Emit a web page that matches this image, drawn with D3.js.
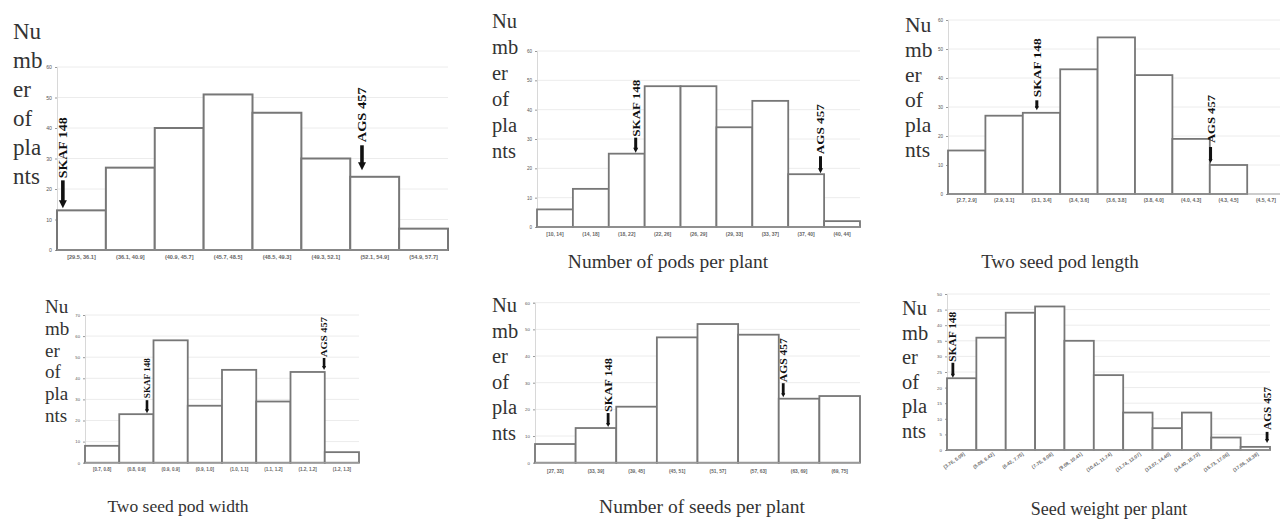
<!DOCTYPE html>
<html><head><meta charset="utf-8">
<script src="https://cdn.jsdelivr.net/npm/d3@7"></script>
<style>body{margin:0;background:#fff}svg{display:block}</style>
</head><body><svg id="c" width="1280" height="521"></svg>
<script>
// ---------- data ----------
const yTitleLines = ["Nu", "mb", "er", "of", "pla", "nts"];
const markerNames = ["SKAF 148", "AGS 457"];

const p1Categories = ["[29.5, 36.1]", "(36.1, 40.9]", "(40.9, 45.7]", "(45.7, 48.5]", "(48.5, 49.3]", "(49.3, 52.1]", "(52.1, 54.9]", "(54.9, 57.7]"];
const p1Values = [13, 27, 40, 51, 45, 30, 24, 7];
const p1YTicks = [0, 10, 20, 30, 40, 50, 60];
const p1MarkerBins = [0, 6];
const p1XTitle = "";

const p2Categories = ["[10, 14]", "(14, 18]", "(18, 22]", "(22, 26]", "(26, 29]", "(29, 33]", "(33, 37]", "(37, 40]", "(40, 44]"];
const p2Values = [6, 13, 25, 48, 48, 34, 43, 18, 2];
const p2YTicks = [0, 10, 20, 30, 40, 50, 60];
const p2MarkerBins = [2, 7];
const p2XTitle = "Number of pods per plant";

const p3Categories = ["[2.7, 2.9]", "(2.9, 3.1]", "(3.1, 3.4]", "(3.4, 3.6]", "(3.6, 3.8]", "(3.8, 4.0]", "(4.0, 4.3]", "(4.3, 4.5]", "(4.5, 4.7]"];
const p3Values = [15, 27, 28, 43, 54, 41, 19, 10, 0];
const p3YTicks = [0, 10, 20, 30, 40, 50, 60];
const p3MarkerBins = [2, 7];
const p3XTitle = "Two seed pod length";

const p4Categories = ["[0.7, 0.8]", "(0.8, 0.9]", "(0.9, 0.9]", "(0.9, 1.0]", "(1.0, 1.1]", "(1.1, 1.2]", "(1.2, 1.2]", "(1.2, 1.3]"];
const p4Values = [8, 23, 58, 27, 44, 29, 43, 5];
const p4YTicks = [0, 10, 20, 30, 40, 50, 60, 70];
const p4MarkerBins = [1, 6];
const p4XTitle = "Two seed pod width";

const p5Categories = ["[27, 33]", "(33, 39]", "(39, 45]", "(45, 51]", "(51, 57]", "(57, 63]", "(63, 69]", "(69, 75]"];
const p5Values = [7, 13, 21, 47, 52, 48, 24, 25];
const p5YTicks = [0, 10, 20, 30, 40, 50, 60];
const p5MarkerBins = [1, 6];
const p5XTitle = "Number of seeds per plant";

const p6Categories = ["[3.76, 5.09]", "(5.09, 6.42]", "(6.42, 7.75]", "(7.75, 9.08]", "(9.08, 10.41]", "(10.41, 11.74]", "(11.74, 13.07]", "(13.07, 14.40]", "(14.40, 15.73]", "(15.73, 17.06]", "(17.06, 18.39]"];
const p6Values = [23, 36, 44, 46, 35, 24, 12, 7, 12, 4, 1];
const p6YTicks = [0, 5, 10, 15, 20, 25, 30, 35, 40, 45, 50];
const p6MarkerBins = [0, 10];
const p6XTitle = "Seed weight per plant";

// ---------- layout ----------
const panels = [
  {cats: p1Categories, vals: p1Values, ticks: p1YTicks, bins: p1MarkerBins, xTitle: p1XTitle,
   left: 57, right: 448, top: 67, bottom: 250, gridRight: 448, tickFs: 5.2, tickDy: 9, rotate: false,
   title: {x: 13, y0: 39, dy: 29, fs: 23}, xt: null, sw: 2, aw: 3.6, head: 8,
   marks: [{frac: 0.12, gap: 2, len: 28, tgap: 2, tlen: 61, fs: 12}, {frac: 0.24, gap: 6.5, len: 25, tgap: 3, tlen: 55, fs: 12}]},
  {cats: p2Categories, vals: p2Values, ticks: p2YTicks, bins: p2MarkerBins, xTitle: p2XTitle,
   left: 537, right: 860, top: 51, bottom: 227, gridRight: 860, tickFs: 4.6, tickDy: 9, rotate: false,
   title: {x: 492, y0: 28, dy: 26, fs: 20.5}, xt: {x: 668, y: 268, fs: 19.5}, sw: 1.8, aw: 3, head: 5,
   marks: [{frac: 0.75, gap: 1, len: 15, tgap: 1, tlen: 57, fs: 11}, {frac: 0.9, gap: 1, len: 17, tgap: 2, tlen: 50, fs: 11}]},
  {cats: p3Categories, vals: p3Values, ticks: p3YTicks, bins: p3MarkerBins, xTitle: p3XTitle,
   left: 948, right: 1284.6, top: 20, bottom: 194, gridRight: 1280, tickFs: 4.6, tickDy: 8, rotate: false,
   title: {x: 905, y0: 32, dy: 25, fs: 21.5}, xt: {x: 1060, y: 268, fs: 19}, sw: 1.8, aw: 3, head: 4,
   marks: [{frac: 0.375, gap: 2.5, len: 10, tgap: 3, tlen: 59, fs: 11}, {frac: 0.02, gap: 2, len: 16, tgap: 4, tlen: 48, fs: 11}]},
  {cats: p4Categories, vals: p4Values, ticks: p4YTicks, bins: p4MarkerBins, xTitle: p4XTitle,
   left: 85, right: 359, top: 315, bottom: 462.7, gridRight: 359, tickFs: 4.2, tickDy: 9, rotate: false,
   title: {x: 45, y0: 313, dy: 21.8, fs: 19}, xt: {x: 178, y: 512, fs: 17.5}, sw: 1.8, aw: 2.6, head: 4,
   marks: [{frac: 0.81, gap: 1, len: 13, tgap: 2, tlen: 40, fs: 8}, {frac: 0.98, gap: 2, len: 12, tgap: 1, tlen: 40, fs: 8}]},
  {cats: p5Categories, vals: p5Values, ticks: p5YTicks, bins: p5MarkerBins, xTitle: p5XTitle,
   left: 535, right: 860, top: 302.7, bottom: 462.7, gridRight: 860, tickFs: 4.4, tickDy: 11, rotate: false,
   title: {x: 492, y0: 312, dy: 25.6, fs: 20.5}, xt: {x: 702, y: 513, fs: 19.5}, sw: 1.8, aw: 2.8, head: 4,
   marks: [{frac: 0.8, gap: 1, len: 14, tgap: 1, tlen: 54, fs: 10}, {frac: 0.11, gap: 1.5, len: 14, tgap: 1, tlen: 44, fs: 10}]},
  {cats: p6Categories, vals: p6Values, ticks: p6YTicks, bins: p6MarkerBins, xTitle: p6XTitle,
   left: 947, right: 1270, top: 294, bottom: 450, gridRight: 1270, tickFs: 4.4, tickDy: 8, rotate: true,
   title: {x: 902, y0: 315, dy: 24.6, fs: 20.5}, xt: {x: 1109, y: 515, fs: 18}, sw: 1.8, aw: 2.8, head: 4,
   marks: [{frac: 0.2, gap: 0.5, len: 15, tgap: 1, tlen: 50, fs: 10}, {frac: 0.9, gap: 4, len: 11, tgap: 2, tlen: 43, fs: 10}]}
];

const svg = d3.select("#c");
const serif = "'Liberation Serif','Times New Roman',serif";

panels.forEach(p => {
  const g = svg.append("g");
  const x = d3.scaleBand().domain(p.cats).range([p.left, p.right]).paddingInner(0).paddingOuter(0);
  const y = d3.scaleLinear().domain([0, d3.max(p.ticks)]).range([p.bottom, p.top]);

  // gridlines
  g.selectAll("line.grid").data(p.ticks.slice(1)).join("line")
    .attr("x1", p.left).attr("x2", p.gridRight)
    .attr("y1", d => y(d)).attr("y2", d => y(d))
    .attr("stroke", "#ececec").attr("stroke-width", 1);

  // y axis
  const ya = g.append("g").attr("transform", `translate(${p.left},0)`)
    .call(d3.axisLeft(y).tickValues(p.ticks).tickSize(2).tickPadding(3).tickFormat(d3.format("d")));
  ya.select(".domain").attr("stroke", "#d8d8d8");
  ya.selectAll(".tick line").attr("stroke", "#999");
  ya.selectAll("text").attr("font-size", p.tickFs).attr("font-family", "Liberation Sans, Arial, sans-serif").attr("fill", "#555");

  // bars
  g.selectAll("rect.bar").data(p.vals).join("rect")
    .attr("x", (d, i) => x(p.cats[i]))
    .attr("width", x.bandwidth())
    .attr("y", d => y(d))
    .attr("height", d => p.bottom - y(d))
    .attr("fill", "#fff")
    .attr("stroke", d => d > 0 ? "#777" : "none")
    .attr("stroke-width", p.sw);

  // x baseline
  g.append("line").attr("x1", p.left).attr("x2", p.gridRight > p.right ? p.right : p.gridRight)
    .attr("y1", p.bottom).attr("y2", p.bottom).attr("stroke", "#9a9a9a").attr("stroke-width", 1.2);

  // x tick labels
  const xa = g.append("g").attr("transform", `translate(0,${p.bottom})`)
    .call(d3.axisBottom(x).tickSize(0).tickPadding(p.tickDy - 4));
  xa.select(".domain").remove();
  const xt = xa.selectAll("text").attr("font-size", p.tickFs + 0.4)
    .attr("font-family", "Liberation Sans, Arial, sans-serif").attr("font-weight", "bold").attr("fill", "#666");
  if (p.rotate) {
    xt.attr("text-anchor", "end").attr("dy", "0").attr("y", 6)
      .attr("transform", "rotate(-35)");
  }

  // y title (broken into lines)
  g.selectAll("text.yt").data(yTitleLines).join("text")
    .attr("x", p.title.x).attr("y", (d, i) => p.title.y0 + i * p.title.dy)
    .attr("font-family", serif).attr("font-size", p.title.fs).attr("fill", "#333")
    .text(d => d);

  // x title
  if (p.xt && p.xTitle) {
    g.append("text").attr("x", p.xt.x).attr("y", p.xt.y).attr("text-anchor", "middle")
      .attr("font-family", serif).attr("font-size", p.xt.fs).attr("fill", "#333").text(p.xTitle);
  }

  // markers (arrows + rotated labels)
  p.bins.forEach((b, k) => {
    const m = p.marks[k];
    const ax = x(p.cats[b]) + m.frac * x.bandwidth();
    const tip = y(p.vals[b]) - m.gap;
    const tail = tip - m.len;
    g.append("line").attr("x1", ax).attr("x2", ax).attr("y1", tail).attr("y2", tip - p.head * 0.6)
      .attr("stroke", "#111").attr("stroke-width", p.aw);
    g.append("path")
      .attr("d", `M${ax - p.head / 2},${tip - p.head}L${ax + p.head / 2},${tip - p.head}L${ax},${tip}Z`)
      .attr("fill", "#111");
    g.append("text")
      .attr("transform", `translate(${ax + m.fs * 0.36},${tail - m.tgap}) rotate(-90)`)
      .attr("font-family", serif).attr("font-weight", "bold").attr("font-size", m.fs)
      .attr("fill", "#111")
      .attr("textLength", m.tlen).attr("lengthAdjust", "spacingAndGlyphs")
      .text(markerNames[k]);
  });
});
</script>
</body></html>
